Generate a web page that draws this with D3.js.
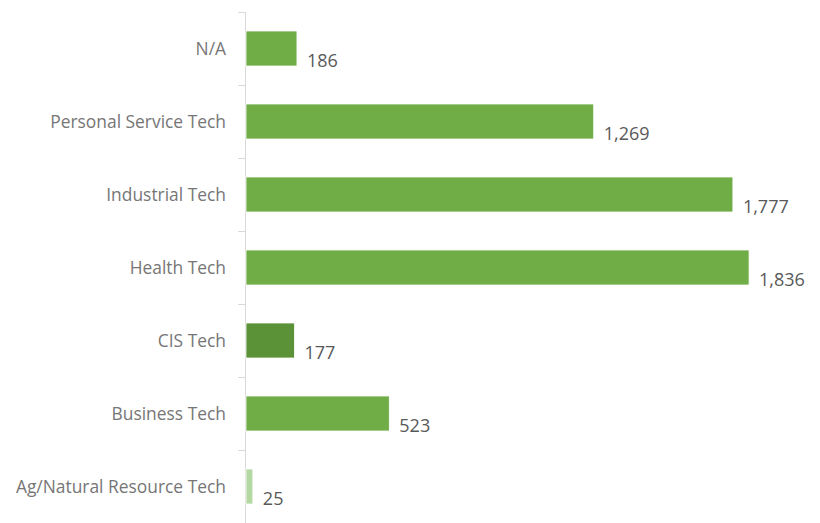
<!DOCTYPE html>
<html lang="en">
<head>
  <meta charset="utf-8">
  <title>Enrollment by program area</title>
  <script src="https://cdnjs.cloudflare.com/ajax/libs/d3/7.8.5/d3.min.js"></script>
  <style>
    body { margin: 0; background: #fff; }
    .cat { font-family: "Open Sans", sans-serif; font-size: 17.4px; fill: #767676; }
    .val { font-family: "Open Sans", sans-serif; font-size: 18px; fill: #595959; }
  </style>
</head>
<body>
  <svg id="svg"></svg>
  <script>
    // categories top to bottom
    var categories = ["N/A", "Personal Service Tech", "Industrial Tech", "Health Tech",
      "CIS Tech", "Business Tech", "Ag/Natural Resource Tech"];
    var counts = [186, 1269, 1777, 1836, 177, 523, 25];
    var barColors = ["#70ad47", "#70ad47", "#70ad47", "#70ad47", "#5b9137", "#70ad47", "#b4d8a2"];

    var width = 820, height = 523;
    var margin = { top: 12, right: 20, bottom: 0, left: 245 };

    var svg = d3.select("#svg")
      .attr("width", width)
      .attr("height", height);

    var x = d3.scaleLinear()
      .domain([0, 2000])
      .range([margin.left, margin.left + 548]);

    var y = d3.scaleBand()
      .domain(categories)
      .range([margin.top, height - margin.bottom])
      .paddingInner(0.52)
      .paddingOuter(0.26);

    // axis line + ticks between categories
    var step = y.step();
    var bounds = d3.range(categories.length + 1).map(function (i) { return margin.top + i * step; });
    svg.append("line")
      .attr("x1", margin.left + 0.5).attr("x2", margin.left + 0.5)
      .attr("y1", margin.top).attr("y2", height)
      .attr("stroke", "#d9d9d9");
    svg.selectAll(".tick")
      .data(bounds)
      .enter().append("line")
      .attr("x1", margin.left - 7).attr("x2", margin.left)
      .attr("y1", function (d) { return Math.round(d) + 0.5; })
      .attr("y2", function (d) { return Math.round(d) + 0.5; })
      .attr("stroke", "#d9d9d9");

    svg.selectAll(".cat")
      .data(categories)
      .enter().append("text")
      .attr("class", "cat")
      .attr("x", margin.left - 19)
      .attr("y", function (d) { return y(d) + y.bandwidth() / 2; })
      .attr("dy", "0.35em")
      .attr("text-anchor", "end")
      .text(function (d) { return d; });

    svg.selectAll(".bar")
      .data(counts)
      .enter().append("rect")
      .attr("x", x(0) + 1)
      .attr("y", function (d, i) { return y(categories[i]); })
      .attr("width", function (d) { return x(d) - x(0); })
      .attr("height", y.bandwidth())
      .attr("fill", function (d, i) { return barColors[i]; })
      .attr("stroke", "#fff")
      .attr("stroke-width", 0.8);

    svg.selectAll(".val")
      .data(counts)
      .enter().append("text")
      .attr("class", "val")
      .attr("x", function (d) { return x(d) + 11; })
      .attr("y", function (d, i) { return y(categories[i]) + y.bandwidth() + 1; })
      .text(function (d) { return d3.format(",")(d); });
  </script>
</body>
</html>
